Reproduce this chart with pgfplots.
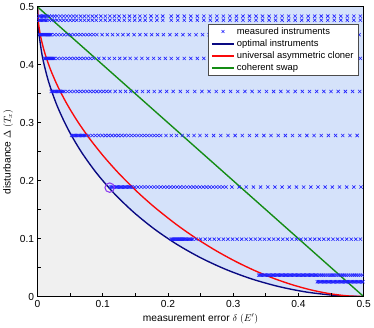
\documentclass[border=0pt]{standalone}
\usepackage{fontspec}
\setmainfont{Liberation Sans}
\usepackage{pgfplots}
\pgfplotsset{compat=1.18}

\definecolor{bggray}{RGB}{240,240,240}
\definecolor{fillblue}{RGB}{213,226,250}
\definecolor{markblue}{RGB}{30,30,255}
\definecolor{optnavy}{RGB}{10,10,130}
\definecolor{clonered}{RGB}{250,10,10}
\definecolor{swapgreen}{RGB}{20,140,20}
\definecolor{circviolet}{RGB}{140,60,240}

\pgfplotsset{meas/.style={only marks, mark=x, mark size=2.3pt, color=markblue,
  mark options={line width=0.6pt}, forget plot}}

\begin{document}
\begin{tikzpicture}
\begin{axis}[
  scale only axis, width=331bp, height=294bp,
  xmin=0, xmax=0.5, ymin=0, ymax=0.5,
  axis background/.style={fill=bggray},
  axis on top,
  axis line style={line width=0.9pt},
  xtick={0,0.1,0.2,0.3,0.4,0.5}, ytick={0,0.1,0.2,0.3,0.4,0.5},
  minor xtick={0.05,0.15,0.25,0.35,0.45}, minor ytick={0.05,0.15,0.25,0.35,0.45},
  tick align=inside, xtick pos=left, ytick pos=left,
  major tick length=4bp, minor tick length=4bp,
  tick style={black, line width=0.8pt},
  ticklabel style={font=\fontsize{10.4}{12}\selectfont},
  /pgf/number format/assume math mode=true,
  xticklabel style={/pgf/number format/fixed, /pgf/number format/precision=1},
  yticklabel style={/pgf/number format/fixed, /pgf/number format/precision=1},
  xlabel={measurement error $\delta\;(E')$},
  ylabel={disturbance $\Delta\;(T_x)$},
  label style={font=\fontsize{10.4}{12}\selectfont},
  legend style={at={(0.985,0.94)}, anchor=north east, draw=black!70, fill=white,
    font=\fontsize{9.6}{11}\selectfont, inner xsep=3pt, inner ysep=1pt, row sep=0pt},
  legend cell align=left,
  legend image code/.code={\draw[mark repeat=2, mark phase=2, #1]
    plot coordinates {(0cm,0cm) (0.4cm,0cm) (0.8cm,0cm)};},
]

\addlegendimage{only marks, mark=x, mark size=2.1pt, color=markblue, mark options={line width=0.6pt}}
\addlegendentry{measured instruments}
\addlegendimage{color=optnavy, line width=1.5pt}
\addlegendentry{optimal instruments}
\addlegendimage{color=clonered, line width=1.5pt}
\addlegendentry{universal asymmetric cloner}
\addlegendimage{color=swapgreen, line width=1.5pt}
\addlegendentry{coherent swap}

% achievable region above the optimal curve
\addplot[fill=fillblue, draw=none, forget plot] coordinates {
(0,0.5) (0.5,0.5) (0.5,0) (0.478190,0.000476) (0.45642,0.00190) (0.41318,0.00760)
(0.37059,0.01704) (0.32899,0.03015) (0.28869,0.04685) (0.25,0.06699) (0.21321,0.09042)
(0.17861,0.11698) (0.14645,0.14645) (0.11698,0.17861) (0.09042,0.21321) (0.06699,0.25)
(0.04685,0.28869) (0.03015,0.32899) (0.01704,0.37059) (0.00760,0.41318) (0.00190,0.45642)
(0.000476,0.478190) (0,0.5)};

% measured instruments
\addplot[meas] coordinates {
(0.002,0.484)(0.004,0.484)(0.006,0.484)(0.008,0.484)(0.010,0.484)(0.012,0.484)(0.014,0.484)
(0.018,0.484)(0.022,0.484)(0.026,0.484)(0.030,0.484)(0.035,0.484)(0.040,0.484)(0.045,0.484)
(0.050,0.484)(0.055,0.484)(0.060,0.484)(0.066,0.484)(0.072,0.484)(0.078,0.484)(0.084,0.484)
(0.090,0.484)(0.097,0.484)(0.104,0.484)(0.111,0.484)(0.118,0.484)(0.125,0.484)(0.133,0.484)
(0.141,0.484)(0.149,0.484)(0.157,0.484)(0.165,0.484)(0.174,0.484)(0.183,0.484)(0.192,0.484)
(0.205,0.484)(0.215,0.484)(0.225,0.484)(0.235,0.484)(0.245,0.484)(0.255,0.484)(0.265,0.484)
(0.275,0.484)(0.285,0.484)(0.295,0.484)(0.305,0.484)(0.315,0.484)(0.325,0.484)(0.335,0.484)
(0.345,0.484)(0.355,0.484)(0.365,0.484)(0.375,0.484)(0.385,0.484)(0.395,0.484)(0.405,0.484)
(0.415,0.484)(0.425,0.484)(0.435,0.484)(0.445,0.484)(0.455,0.484)(0.465,0.484)(0.475,0.484)
(0.485,0.484)(0.495,0.484)};

\addplot[meas] coordinates {
(0.002,0.477)(0.004,0.477)(0.006,0.477)(0.008,0.477)(0.010,0.477)(0.012,0.477)(0.014,0.477)
(0.018,0.477)(0.022,0.477)(0.026,0.477)(0.030,0.477)(0.035,0.477)(0.040,0.477)(0.045,0.477)
(0.050,0.477)(0.055,0.477)(0.060,0.477)(0.066,0.477)(0.072,0.477)(0.078,0.477)(0.084,0.477)
(0.090,0.477)(0.097,0.477)(0.104,0.477)(0.111,0.477)(0.118,0.477)(0.125,0.477)(0.133,0.477)
(0.141,0.477)(0.149,0.477)(0.157,0.477)(0.165,0.477)(0.174,0.477)(0.183,0.477)(0.192,0.477)
(0.205,0.477)(0.215,0.477)(0.225,0.477)(0.235,0.477)(0.245,0.477)(0.255,0.477)(0.265,0.477)
(0.275,0.477)(0.285,0.477)(0.295,0.477)(0.305,0.477)(0.315,0.477)(0.325,0.477)(0.335,0.477)
(0.345,0.477)(0.355,0.477)(0.365,0.477)(0.375,0.477)(0.385,0.477)(0.395,0.477)(0.405,0.477)
(0.415,0.477)(0.425,0.477)(0.435,0.477)(0.445,0.477)(0.455,0.477)(0.465,0.477)(0.475,0.477)
(0.485,0.477)(0.495,0.477)};

\addplot[meas] coordinates {
(0.003,0.452)(0.0045,0.452)(0.006,0.452)(0.0075,0.452)(0.009,0.452)(0.0105,0.452)(0.012,0.452)
(0.0135,0.452)(0.015,0.452)(0.0165,0.452)(0.018,0.452)(0.0195,0.452)(0.021,0.452)
(0.026,0.452)(0.031,0.452)(0.036,0.452)(0.041,0.452)(0.046,0.452)(0.051,0.452)(0.056,0.452)
(0.061,0.452)(0.066,0.452)(0.071,0.452)(0.076,0.452)(0.081,0.452)(0.086,0.452)(0.091,0.452)
(0.099,0.452)(0.107,0.452)(0.115,0.452)(0.123,0.452)(0.131,0.452)(0.139,0.452)(0.148,0.452)
(0.157,0.452)(0.166,0.452)(0.175,0.452)(0.184,0.452)(0.193,0.452)
(0.203,0.452)(0.213,0.452)(0.223,0.452)(0.233,0.452)(0.243,0.452)(0.253,0.452)(0.263,0.452)
(0.273,0.452)(0.283,0.452)(0.293,0.452)(0.303,0.452)(0.313,0.452)(0.323,0.452)(0.333,0.452)
(0.343,0.452)(0.353,0.452)(0.363,0.452)(0.373,0.452)(0.383,0.452)(0.393,0.452)(0.403,0.452)
(0.413,0.452)(0.423,0.452)(0.433,0.452)(0.443,0.452)(0.453,0.452)(0.463,0.452)(0.473,0.452)
(0.483,0.452)(0.493,0.452)};

\addplot[meas] coordinates {
(0.011,0.411)(0.0125,0.411)(0.014,0.411)(0.0155,0.411)(0.017,0.411)(0.0185,0.411)(0.020,0.411)
(0.0215,0.411)(0.023,0.411)(0.0245,0.411)(0.026,0.411)
(0.031,0.411)(0.036,0.411)(0.041,0.411)(0.046,0.411)(0.051,0.411)(0.056,0.411)(0.061,0.411)
(0.066,0.411)(0.071,0.411)(0.076,0.411)(0.081,0.411)(0.086,0.411)
(0.094,0.411)(0.102,0.411)(0.110,0.411)(0.118,0.411)(0.126,0.411)(0.134,0.411)(0.142,0.411)
(0.151,0.411)(0.160,0.411)(0.169,0.411)(0.178,0.411)(0.187,0.411)(0.196,0.411)
(0.205,0.411)(0.215,0.411)(0.225,0.411)(0.235,0.411)(0.245,0.411)(0.255,0.411)(0.265,0.411)
(0.275,0.411)(0.285,0.411)(0.295,0.411)(0.305,0.411)(0.315,0.411)(0.325,0.411)(0.335,0.411)
(0.345,0.411)(0.355,0.411)(0.365,0.411)(0.375,0.411)(0.385,0.411)(0.395,0.411)(0.405,0.411)
(0.415,0.411)(0.425,0.411)(0.435,0.411)(0.445,0.411)(0.455,0.411)(0.465,0.411)(0.475,0.411)
(0.485,0.411)(0.495,0.411)};

\addplot[meas] coordinates {
(0.021,0.354)(0.023,0.354)(0.025,0.354)(0.027,0.354)(0.029,0.354)(0.031,0.354)(0.033,0.354)
(0.035,0.354)(0.037,0.354)(0.039,0.354)(0.041,0.354)
(0.046,0.354)(0.051,0.354)(0.056,0.354)(0.061,0.354)(0.066,0.354)(0.071,0.354)(0.076,0.354)
(0.081,0.354)(0.086,0.354)(0.091,0.354)(0.096,0.354)(0.101,0.354)(0.106,0.354)(0.111,0.354)
(0.119,0.354)(0.127,0.354)(0.135,0.354)(0.143,0.354)(0.152,0.354)(0.161,0.354)(0.170,0.354)
(0.179,0.354)(0.188,0.354)(0.198,0.354)
(0.208,0.354)(0.219,0.354)(0.230,0.354)(0.241,0.354)(0.252,0.354)(0.263,0.354)(0.274,0.354)
(0.285,0.354)(0.296,0.354)(0.307,0.354)(0.318,0.354)(0.329,0.354)(0.340,0.354)(0.351,0.354)
(0.362,0.354)(0.373,0.354)(0.384,0.354)(0.395,0.354)(0.406,0.354)(0.417,0.354)(0.428,0.354)
(0.439,0.354)(0.450,0.354)(0.461,0.354)(0.472,0.354)(0.483,0.354)(0.494,0.354)};

\addplot[meas] coordinates {
(0.052,0.278)(0.054,0.278)(0.056,0.278)(0.058,0.278)(0.060,0.278)(0.062,0.278)(0.064,0.278)
(0.066,0.278)(0.068,0.278)(0.070,0.278)(0.072,0.278)(0.074,0.278)
(0.079,0.278)(0.084,0.278)(0.089,0.278)(0.094,0.278)(0.099,0.278)(0.104,0.278)(0.109,0.278)
(0.114,0.278)(0.119,0.278)(0.124,0.278)(0.129,0.278)(0.134,0.278)(0.139,0.278)(0.144,0.278)
(0.149,0.278)(0.154,0.278)(0.159,0.278)(0.164,0.278)(0.169,0.278)(0.174,0.278)(0.179,0.278)
(0.184,0.278)(0.189,0.278)
(0.197,0.278)(0.205,0.278)(0.213,0.278)(0.222,0.278)(0.231,0.278)(0.240,0.278)(0.249,0.278)
(0.259,0.278)(0.270,0.278)(0.281,0.278)(0.292,0.278)(0.303,0.278)(0.314,0.278)(0.325,0.278)
(0.336,0.278)(0.347,0.278)(0.358,0.278)(0.369,0.278)(0.380,0.278)(0.391,0.278)(0.402,0.278)
(0.413,0.278)(0.424,0.278)(0.435,0.278)(0.446,0.278)(0.457,0.278)(0.468,0.278)(0.479,0.278)
(0.490,0.278)};

\addplot[meas] coordinates {
(0.112,0.189)(0.114,0.189)(0.116,0.189)(0.118,0.189)(0.120,0.189)(0.122,0.189)(0.124,0.189)
(0.126,0.189)(0.128,0.189)(0.130,0.189)(0.132,0.189)(0.134,0.189)(0.136,0.189)(0.138,0.189)
(0.140,0.189)(0.142,0.189)(0.144,0.189)
(0.149,0.189)(0.154,0.189)(0.159,0.189)(0.164,0.189)(0.169,0.189)(0.174,0.189)(0.179,0.189)
(0.184,0.189)(0.189,0.189)(0.194,0.189)(0.199,0.189)(0.204,0.189)(0.209,0.189)(0.214,0.189)
(0.219,0.189)(0.224,0.189)(0.229,0.189)(0.234,0.189)(0.239,0.189)(0.244,0.189)(0.249,0.189)
(0.254,0.189)(0.259,0.189)(0.264,0.189)(0.269,0.189)(0.274,0.189)(0.279,0.189)(0.284,0.189)
(0.289,0.189)
(0.298,0.189)(0.309,0.189)(0.320,0.189)(0.331,0.189)(0.342,0.189)(0.353,0.189)(0.364,0.189)
(0.375,0.189)(0.386,0.189)(0.397,0.189)(0.408,0.189)(0.419,0.189)(0.430,0.189)(0.441,0.189)
(0.452,0.189)(0.463,0.189)(0.474,0.189)(0.485,0.189)(0.496,0.189)};

\addplot[meas] coordinates {
(0.205,0.099)(0.2065,0.099)(0.208,0.099)(0.2095,0.099)(0.211,0.099)(0.2125,0.099)(0.214,0.099)
(0.2155,0.099)(0.217,0.099)(0.2185,0.099)(0.220,0.099)(0.2215,0.099)(0.223,0.099)(0.2245,0.099)
(0.226,0.099)(0.228,0.099)(0.230,0.099)(0.232,0.099)(0.234,0.099)(0.236,0.099)(0.238,0.099)
(0.243,0.099)(0.250,0.099)(0.257,0.099)(0.264,0.099)(0.271,0.099)(0.278,0.099)(0.285,0.099)
(0.292,0.099)(0.299,0.099)(0.306,0.099)(0.313,0.099)(0.320,0.099)(0.327,0.099)(0.334,0.099)
(0.341,0.099)(0.348,0.099)(0.355,0.099)(0.362,0.099)(0.369,0.099)(0.376,0.099)(0.383,0.099)
(0.390,0.099)(0.397,0.099)(0.404,0.099)(0.411,0.099)(0.418,0.099)(0.425,0.099)(0.432,0.099)
(0.439,0.099)(0.446,0.099)(0.453,0.099)(0.460,0.099)(0.467,0.099)(0.474,0.099)(0.481,0.099)
(0.488,0.099)(0.495,0.099)};

\addplot[meas] coordinates {
(0.339,0.037)(0.341,0.037)(0.343,0.037)(0.345,0.037)(0.347,0.037)(0.349,0.037)(0.351,0.037)
(0.353,0.037)(0.355,0.037)(0.357,0.037)(0.359,0.037)(0.361,0.037)(0.363,0.037)(0.365,0.037)
(0.367,0.037)(0.369,0.037)(0.371,0.037)(0.373,0.037)(0.375,0.037)(0.377,0.037)(0.379,0.037)
(0.381,0.037)(0.383,0.037)(0.385,0.037)(0.387,0.037)(0.389,0.037)(0.391,0.037)(0.393,0.037)
(0.395,0.037)(0.397,0.037)(0.399,0.037)(0.401,0.037)(0.403,0.037)(0.405,0.037)(0.407,0.037)
(0.409,0.037)(0.411,0.037)(0.413,0.037)(0.415,0.037)(0.417,0.037)(0.419,0.037)(0.421,0.037)
(0.423,0.037)(0.425,0.037)(0.427,0.037)(0.429,0.037)
(0.432,0.037)(0.435,0.037)(0.438,0.037)(0.441,0.037)(0.444,0.037)(0.447,0.037)(0.450,0.037)
(0.453,0.037)(0.456,0.037)(0.459,0.037)(0.462,0.037)(0.465,0.037)(0.468,0.037)(0.471,0.037)
(0.474,0.037)(0.477,0.037)(0.480,0.037)(0.483,0.037)(0.486,0.037)(0.489,0.037)(0.492,0.037)
(0.495,0.037)(0.498,0.037)};

\addplot[meas] coordinates {
(0.429,0.0255)(0.431,0.0255)(0.433,0.0255)(0.435,0.0255)(0.437,0.0255)(0.439,0.0255)
(0.441,0.0255)(0.443,0.0255)(0.445,0.0255)(0.447,0.0255)(0.449,0.0255)(0.451,0.0255)
(0.453,0.0255)(0.455,0.0255)(0.457,0.0255)(0.459,0.0255)(0.461,0.0255)(0.463,0.0255)
(0.465,0.0255)(0.467,0.0255)(0.469,0.0255)(0.471,0.0255)(0.473,0.0255)(0.475,0.0255)
(0.477,0.0255)(0.479,0.0255)(0.481,0.0255)(0.483,0.0255)(0.485,0.0255)(0.487,0.0255)
(0.489,0.0255)(0.491,0.0255)(0.493,0.0255)(0.495,0.0255)(0.497,0.0255)(0.499,0.0255)};

% optimal instruments
\addplot[color=optnavy, line width=1.4pt, smooth, forget plot] coordinates {
(0,0.5) (0.000476,0.478190) (0.00190,0.45642) (0.00760,0.41318) (0.01704,0.37059)
(0.03015,0.32899) (0.04685,0.28869) (0.06699,0.25) (0.09042,0.21321) (0.11698,0.17861)
(0.14645,0.14645) (0.17861,0.11698) (0.21321,0.09042) (0.25,0.06699) (0.28869,0.04685)
(0.32899,0.03015) (0.37059,0.01704) (0.41318,0.00760) (0.45642,0.00190) (0.478190,0.000476)
(0.5,0)};

% universal asymmetric cloner
\addplot[color=clonered, line width=1.4pt, smooth, forget plot] coordinates {
(0,0.5) (0.00125,0.47440) (0.005,0.44769) (0.01125,0.42001) (0.02,0.39151) (0.03125,0.36234)
(0.045,0.33265) (0.06125,0.30261) (0.08,0.27238) (0.10125,0.24216) (0.125,0.21215)
(0.15125,0.18257) (0.16667,0.16667) (0.18257,0.15125) (0.21215,0.125) (0.24216,0.10125)
(0.27238,0.08) (0.30261,0.06125) (0.33265,0.045) (0.36234,0.03125) (0.39151,0.02)
(0.42001,0.01125) (0.44769,0.005) (0.47440,0.00125) (0.5,0)};

% coherent swap
\addplot[color=swapgreen, line width=1.4pt, forget plot] coordinates {(0,0.5) (0.5,0)};

\addplot[only marks, mark=o, mark size=4.8pt, color=circviolet, mark options={line width=1.1pt}, forget plot]
  coordinates {(0.1106,0.188)};

\end{axis}
\end{tikzpicture}
\end{document}
